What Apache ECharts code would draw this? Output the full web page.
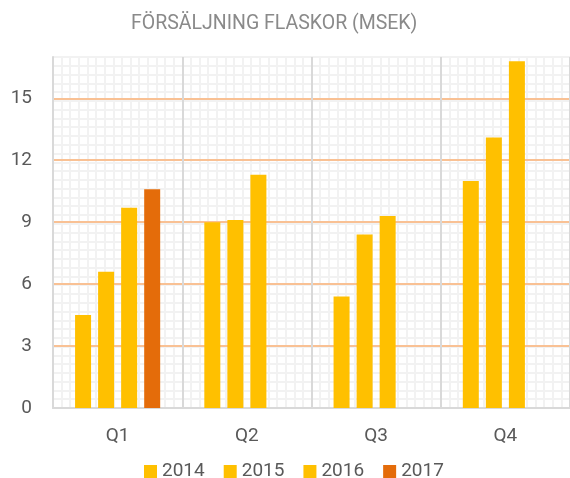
<!DOCTYPE html>
<html>
<head>
<meta charset="utf-8">
<title>Försäljning flaskor</title>
<script src="https://cdn.jsdelivr.net/npm/echarts@6/dist/echarts.min.js"></script>
<style>
    html, body { margin: 0; padding: 0; background: #fff; }
    #chart { width: 570px; height: 478px; }
</style>
</head>
<body>
<div id="chart"></div>
<script>
// ============================================
// Data
// ============================================

const quarters = ['Q1', 'Q2', 'Q3', 'Q4'];
const years = ['2014', '2015', '2016', '2017'];

const sales2014 = [4.5, 9.0, 5.4, 11.0];
const sales2015 = [6.6, 9.1, 8.4, 13.1];
const sales2016 = [9.7, 11.3, 9.3, 16.8];
const sales2017 = [10.6, null, null, null];

const yTicks = { min: 0, max: 17, interval: 3 };

// ============================================
// Styles
// ============================================

const YELLOW = '#FFC000';
const ORANGE = '#E46C0A';
const AXIS_GREY = '#d9d9d9';
const PATTERN_GREY = '#f2f2f2';
const LABEL_GREY = '#595959';
const FONT = 'Roboto';

const seriesData = [sales2014, sales2015, sales2016, sales2017];
const seriesColors = [YELLOW, YELLOW, YELLOW, ORANGE];

const chart = echarts.init(document.getElementById('chart'));

chart.setOption({
    animation: false,
    textStyle: { fontFamily: FONT },
    title: {
        text: 'FÖRSÄLJNING FLASKOR (MSEK)',
        left: 131,
        top: 14,
        padding: 0,
        textStyle: { fontFamily: FONT, fontSize: 19.5, fontWeight: 'normal', color: '#8a8a8a' }
    },
    legend: {
        data: years,
        left: 139,
        top: 457,
        icon: 'rect',
        itemWidth: 13,
        itemHeight: 13,
        itemGap: 19,
        textStyle: { fontFamily: FONT, fontSize: 19, color: LABEL_GREY }
    },
    grid: { left: 53, right: 0, top: 57, bottom: 70 },
    xAxis: [
        {
            type: 'category',
            data: quarters,
            z: 1,
            axisLine: { lineStyle: { color: AXIS_GREY, width: 2 } },
            axisTick: { show: false },
            axisLabel: { fontFamily: FONT, fontSize: 19, color: LABEL_GREY, margin: 19 },
            splitLine: { show: true, lineStyle: { color: AXIS_GREY, width: 2 } }
        },
        {
            // background pattern, vertical
            type: 'value',
            position: 'top',
            min: 0,
            max: 60,
            interval: 1,
            axisLine: { show: false },
            axisTick: { show: false },
            axisLabel: { show: false },
            splitLine: { show: true, lineStyle: { color: PATTERN_GREY, width: 2 } }
        }
    ],
    yAxis: [
        {
            type: 'value',
            min: yTicks.min,
            max: yTicks.max,
            interval: yTicks.interval,
            z: 1,
            axisLine: { show: true, lineStyle: { color: AXIS_GREY, width: 2 } },
            axisTick: { show: false },
            axisLabel: { fontFamily: FONT, fontSize: 19, color: LABEL_GREY, margin: 21, showMaxLabel: false },
            splitLine: {
                show: true,
                showMinLine: false,
                showMaxLine: false,
                lineStyle: { color: '#f9c194', width: 2 }
            }
        },
        {
            // background pattern, horizontal
            type: 'value',
            position: 'right',
            min: 0,
            max: 40,
            interval: 1,
            axisLine: { show: false },
            axisTick: { show: false },
            axisLabel: { show: false },
            splitLine: { show: true, lineStyle: { color: PATTERN_GREY, width: 2 } }
        }
    ],
    series: years.map((year, i) => ({
        name: year,
        type: 'bar',
        data: seriesData[i],
        barWidth: 16,
        barGap: '44%',
        itemStyle: { color: seriesColors[i] }
    }))
});
</script>
</body>
</html>
